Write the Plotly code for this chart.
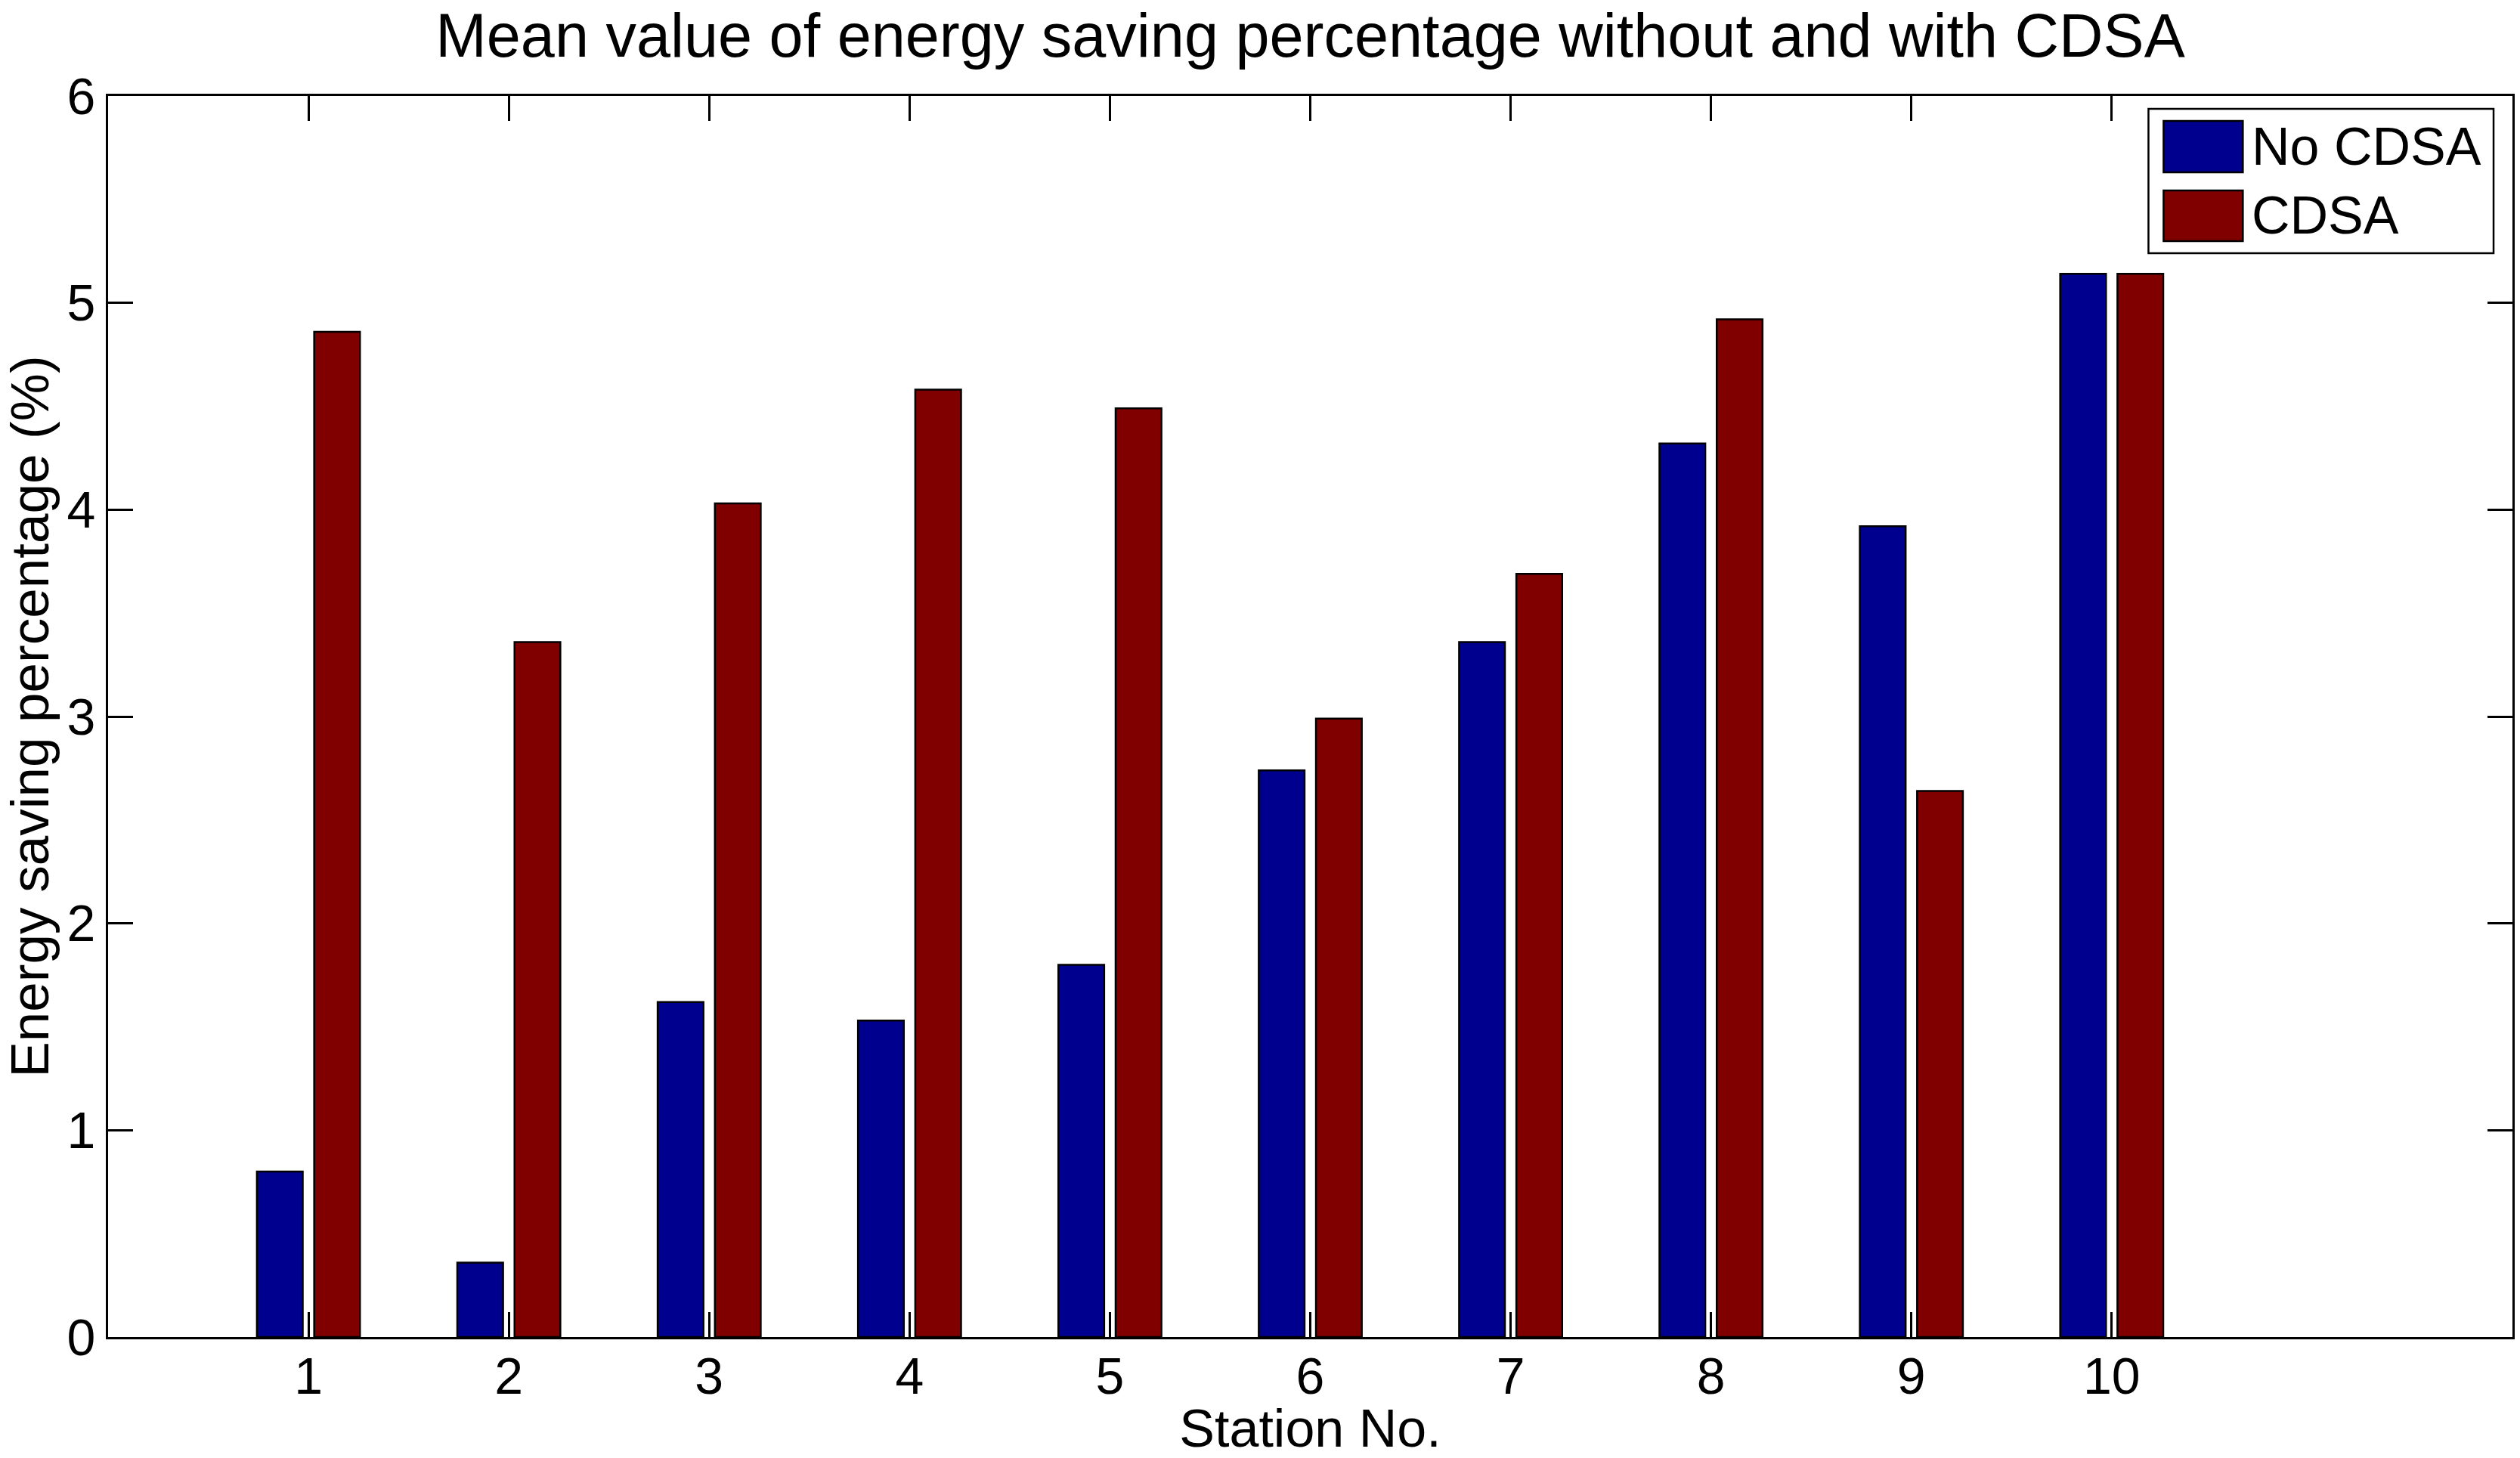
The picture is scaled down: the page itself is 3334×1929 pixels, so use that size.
import plotly.graph_objects as go

stations = [1, 2, 3, 4, 5, 6, 7, 8, 9, 10]
no_cdsa = [0.80, 0.36, 1.62, 1.53, 1.80, 2.74, 3.36, 4.32, 3.92, 5.14]
cdsa = [4.86, 3.36, 4.03, 4.58, 4.49, 2.99, 3.69, 4.92, 2.64, 5.14]
series_names = ["No CDSA", "CDSA"]
series_colors = ["#00008F", "#800000"]
y_ticks = [0, 1, 2, 3, 4, 5, 6]

W, H = 3334, 1929
L, R, T, B = 143, 7, 127, 160
PW, PH = W - L - R, H - T - B
FONT = "Liberation Sans, Arial, Helvetica, sans-serif"


def px(x):
    return (x - L) / PW


def py(y):
    return (H - B - y) / PH


fig = go.Figure()
for name, vals, col in zip(series_names, [no_cdsa, cdsa], series_colors):
    fig.add_trace(go.Bar(
        x=stations, y=vals, name=name,
        marker=dict(color=col, line=dict(color="black", width=2.5)),
        showlegend=False,
    ))

fig.update_layout(
    width=W, height=H,
    margin=dict(l=L, r=R, t=T, b=B),
    paper_bgcolor="white", plot_bgcolor="white",
    barmode="group", bargap=0.4286, bargroupgap=0.2,
    font=dict(family=FONT, size=68, color="black"),
    title=dict(
        text="Mean value of energy saving percentage without and with CDSA",
        x=0.5, xanchor="center", xref="paper",
        y=1 - 75 / H, yanchor="bottom", yref="container",
        font=dict(family=FONT, size=81, color="black"),
    ),
    xaxis=dict(
        range=[0, 12], tickmode="array", tickvals=stations,
        ticktext=[str(s) for s in stations],
        showgrid=False, zeroline=False,
        showline=True, linecolor="black", linewidth=3, mirror="ticks",
        ticks="inside", ticklen=33, tickwidth=2.5, tickcolor="black",
        tickfont=dict(size=68), ticklabelstandoff=-10,
        title=dict(text="Station No.", font=dict(size=70), standoff=4),
    ),
    yaxis=dict(
        range=[0, 6], tickmode="array", tickvals=y_ticks,
        ticktext=[str(v) for v in y_ticks],
        showgrid=False, zeroline=False,
        showline=True, linecolor="black", linewidth=3, mirror="ticks",
        ticks="inside", ticklen=33, tickwidth=2.5, tickcolor="black",
        tickfont=dict(size=68),
        title=dict(text="Energy saving percentage (%)", font=dict(size=71), standoff=10),
    ),
)

# legend box (MATLAB-style)
fig.add_shape(type="rect", xref="paper", yref="paper",
              x0=px(2845), x1=px(3302), y0=py(144), y1=py(335),
              line=dict(color="black", width=2.5), fillcolor="white", layer="above")
sw = [(160, 228), (252, 319)]
for (y0, y1), name, col in zip(sw, series_names, series_colors):
    fig.add_shape(type="rect", xref="paper", yref="paper",
                  x0=px(2865), x1=px(2970), y0=py(y0), y1=py(y1),
                  line=dict(color="black", width=2.5), fillcolor=col, layer="above")
    fig.add_annotation(xref="paper", yref="paper", x=px(2980), y=py((y0 + y1) / 2),
                       text=name, showarrow=False, xanchor="left", yanchor="middle",
                       font=dict(family=FONT, size=70, color="black"))

fig.write_html("out.html", config={"displayModeBar": False},
               post_script="document.body.style.margin='0';")
